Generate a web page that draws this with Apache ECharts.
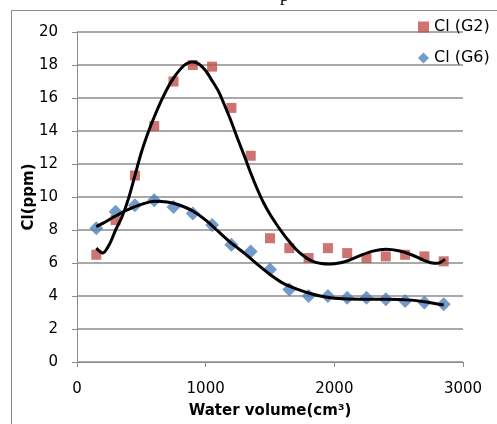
<!DOCTYPE html>
<html><head><meta charset="utf-8">
<script src="https://cdn.jsdelivr.net/npm/echarts@6/dist/echarts.min.js"></script>
<style>html,body{margin:0;padding:0;background:#fff}#c{width:497px;height:424px}</style>
</head><body><div id="c"></div>
<script>
const xTicks = [0, 1000, 2000, 3000];
const yTicks = [0, 2, 4, 6, 8, 10, 12, 14, 16, 18, 20];
const volume = [150, 300, 450, 600, 750, 900, 1050, 1200, 1350, 1500, 1650, 1800, 1950, 2100, 2250, 2400, 2550, 2700, 2850];
const clG2 = [6.5, 8.6, 11.3, 14.3, 17.0, 18.0, 17.9, 15.4, 12.5, 7.5, 6.9, 6.3, 6.9, 6.6, 6.3, 6.4, 6.5, 6.4, 6.1];
const clG6 = [8.1, 9.1, 9.5, 9.8, 9.4, 9.0, 8.3, 7.1, 6.7, 5.6, 4.4, 4.0, 4.0, 3.9, 3.9, 3.8, 3.7, 3.6, 3.5];
// trend curves
const trendG2X = [150, 200, 250, 300, 350, 400, 450, 500, 550, 600, 650, 700, 750, 800, 850, 900, 950, 1000, 1050, 1100, 1150, 1200, 1250, 1300, 1350, 1400, 1450, 1500, 1550, 1600, 1650, 1700, 1750, 1800, 1850, 1900, 1950, 2000, 2050, 2100, 2200, 2300, 2400, 2500, 2600, 2700, 2750, 2800, 2860];
const trendG2Y = [6.9, 6.6, 7.1, 8.0, 8.8, 9.9, 11.3, 12.7, 13.85, 14.85, 15.75, 16.55, 17.2, 17.72, 18.08, 18.18, 18.05, 17.65, 17.05, 16.4, 15.5, 14.55, 13.5, 12.5, 11.45, 10.5, 9.65, 8.95, 8.35, 7.8, 7.3, 6.85, 6.5, 6.22, 6.05, 5.97, 5.94, 5.96, 6.02, 6.12, 6.45, 6.72, 6.83, 6.74, 6.5, 6.15, 6.02, 5.98, 6.22];
const trendG6X = [150, 200, 300, 400, 500, 600, 700, 800, 900, 1000, 1100, 1200, 1300, 1400, 1500, 1600, 1700, 1800, 1900, 2000, 2200, 2400, 2600, 2700, 2850];
const trendG6Y = [8.2, 8.4, 8.85, 9.25, 9.55, 9.75, 9.7, 9.5, 9.15, 8.6, 7.9, 7.2, 6.6, 5.93, 5.3, 4.78, 4.45, 4.18, 3.98, 3.86, 3.8, 3.8, 3.75, 3.65, 3.45];

const zip = (a, b) => a.map((v, i) => [v, b[i]]);
const chart = echarts.init(document.getElementById('c'), null, {renderer: 'canvas'});
const F = 'DejaVu Sans';
chart.setOption({
  animation: false,
  backgroundColor: '#fff',
  graphic: [
    {type: 'rect', shape: {x: 11.5, y: 10.5, width: 600, height: 600}, style: {fill: 'none', stroke: '#8a8a8a', lineWidth: 1}, z: -1},
    {type: 'text', x: 280, y: -13, style: {text: 'p', font: '18px "Liberation Serif"', fill: '#000'}}
  ],
  legend: {
    orient: 'vertical', left: 413, top: 14, itemGap: 15, itemWidth: 11, itemHeight: 11,
    textStyle: {fontFamily: F, fontSize: 16, color: '#000'},
    data: ['Cl (G2)', 'Cl (G6)']
  },
  grid: {left: 77, right: 34, top: 32, bottom: 62},
  xAxis: {
    type: 'value', min: xTicks[0], max: xTicks[xTicks.length - 1], interval: 1000,
    name: 'Water volume(cm³)', nameLocation: 'middle', nameGap: 42, nameMoveOverlap: false,
    nameTextStyle: {fontFamily: F, fontSize: 15, fontWeight: 'bold', color: '#000'},
    axisLine: {lineStyle: {color: '#8c8c8c', width: 1}},
    axisTick: {show: true, length: 5, lineStyle: {color: '#8c8c8c'}},
    axisLabel: {fontFamily: F, fontSize: 15, color: '#000', margin: 20, formatter: v => String(v)},
    splitLine: {show: false}
  },
  yAxis: {
    type: 'value', min: yTicks[0], max: yTicks[yTicks.length - 1], interval: 2,
    name: 'Cl(ppm)', nameLocation: 'middle', nameGap: 40, nameMoveOverlap: false,
    nameTextStyle: {fontFamily: F, fontSize: 15, fontWeight: 'bold', color: '#000'},
    axisLine: {show: true, lineStyle: {color: '#8c8c8c', width: 1}},
    axisTick: {show: true, length: 5, lineStyle: {color: '#8c8c8c'}},
    axisLabel: {fontFamily: F, fontSize: 15, color: '#000', margin: 19},
    splitLine: {show: true, lineStyle: {color: '#8c8c8c', width: 1.5}}
  },
  series: [
    {name: 'Cl (G2)', type: 'scatter', symbol: 'rect', symbolSize: 10, itemStyle: {color: '#C0504D'}, data: zip(volume, clG2), z: 2},
    {name: 'Cl (G6)', type: 'scatter', symbol: 'diamond', symbolSize: 14, itemStyle: {color: '#4F81BD'}, data: zip(volume, clG6), z: 2},
    {name: 'trendG2', type: 'line', smooth: 0.3, showSymbol: false, symbol: 'none', lineStyle: {color: '#000', width: 3}, data: zip(trendG2X, trendG2Y), z: 3},
    {name: 'trendG6', type: 'line', smooth: 0.3, showSymbol: false, symbol: 'none', lineStyle: {color: '#000', width: 3}, data: zip(trendG6X, trendG6Y), z: 3}
  ]
});
</script></body></html>
